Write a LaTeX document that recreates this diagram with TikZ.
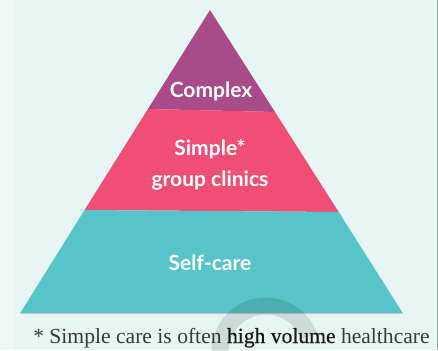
\documentclass[tikz,border=0pt]{standalone}
\usepackage{fontspec}
\setmainfont{Liberation Serif}
\newfontfamily\tierfont{Lato}
\newfontfamily\notefont{Liberation Serif}
\newfontfamily\notestrong[FakeBold=0.6]{Liberation Serif}
\definecolor{pagebg}{HTML}{E7F5F5}
\definecolor{pagestrip}{HTML}{EEF8F8}
\definecolor{tiertop}{HTML}{A94A89}
\definecolor{tiermid}{HTML}{F04E75}
\definecolor{tierbase}{HTML}{57C4C9}
\definecolor{notegray}{HTML}{3A3A3A}
\begin{document}
\begin{tikzpicture}[x=1pt,y=-1pt,
  tierlabel/.style={text=white, inner sep=0pt, anchor=base,
    font=\tierfont\bfseries\fontsize{21}{24}\selectfont},
  notetext/.style={text=notegray, inner sep=0pt, anchor=base,
    font=\notefont\fontsize{21.6}{24}\selectfont}]
\useasboundingbox (0,0) rectangle (438,350);
% page background
\fill[pagebg] (0,0) rectangle (438,350);
\fill[pagestrip] (0,0) rectangle (14,350);
\draw[gray!70, line width=1pt] (437.5,0) -- (437.5,350);
% pyramid corners
\coordinate (apex) at (210,10);
\coordinate (l1) at (147.9,109);
\coordinate (r1) at (275,112);
\coordinate (l2) at (84.6,210);
\coordinate (r2) at (338.7,212);
\coordinate (bl) at (20,313.5);
\coordinate (br) at (403,313.5);
% tiers
\fill[tiertop] (apex) -- (r1) -- (l1) -- cycle;
\fill[tiermid] (l1) -- (r1) -- (r2) -- (l2) -- cycle;
\fill[tierbase] (l2) -- (r2) -- (br) -- (bl) -- cycle;
\draw[gray!45, line width=0.8pt] (bl) -- (br);
% tier labels
\node[tierlabel] (complex) at (211,97) {Complex};
\node[tierlabel] (simple) at (210,155) {Simple*};
\node[tierlabel] (clinics) at (210,186) {group clinics};
\node[tierlabel] (selfcare) at (210,270) {Self-care};
% footnote
\node[notetext] (note) at (231.5,343) {* Simple care is often {\notestrong\color{black!90}high volume} healthcare};
% faint logo arc
\draw[black, opacity=0.11, line width=17pt] (266,352) ++(180:46) arc[start angle=180, end angle=340, radius=46];
\end{tikzpicture}
\end{document}
